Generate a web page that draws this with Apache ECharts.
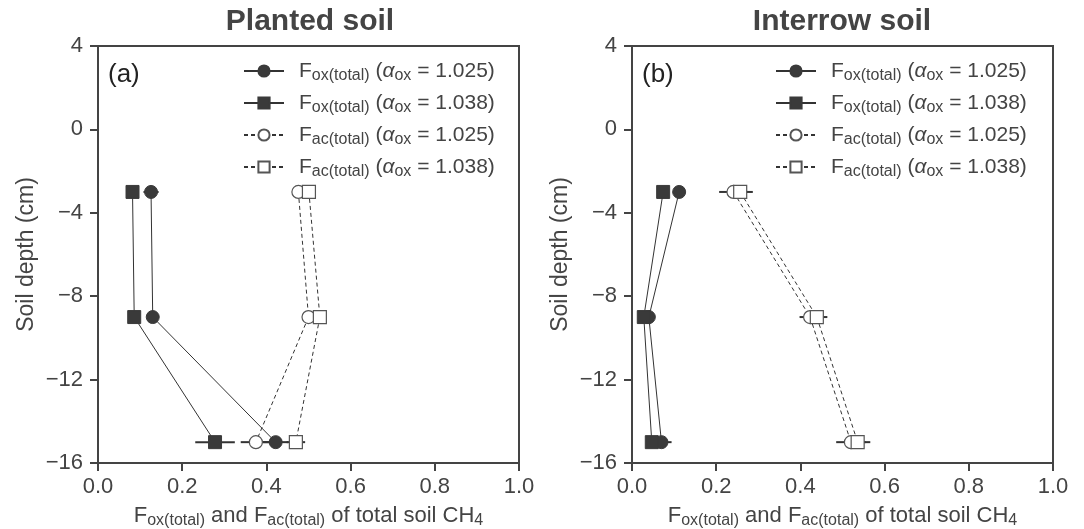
<!DOCTYPE html>
<html>
<head>
<meta charset="utf-8">
<script src="https://cdn.jsdelivr.net/npm/echarts@6/dist/echarts.min.js"></script>
<style>
  html, body { margin: 0; padding: 0; background: #fff; }
  #chart { width: 1084px; height: 529px; }
</style>
</head>
<body>
<div id="chart"></div>
<script>
// depths of the three sampled layers (cm)
const depths = [-3, -9, -15];

// Planted soil
const plantedOx1025 = [0.126, 0.13, 0.422];
const plantedOx1038 = [0.082, 0.086, 0.278];
const plantedAc1025 = [0.476, 0.5, 0.375];
const plantedAc1038 = [0.501, 0.527, 0.47];
const plantedOx1025Err = [0.018, 0.006, 0.03];
const plantedOx1038Err = [0.004, 0.004, 0.047];
const plantedAc1025Err = [0.006, 0.006, 0.036];
const plantedAc1038Err = [0.006, 0.006, 0.022];

// Interrow soil
const interrowOx1025 = [0.112, 0.04, 0.07];
const interrowOx1038 = [0.074, 0.028, 0.047];
const interrowAc1025 = [0.241, 0.423, 0.52];
const interrowAc1038 = [0.257, 0.439, 0.536];
const interrowOx1025Err = [0.006, 0.008, 0.024];
const interrowOx1038Err = [0.004, 0.008, 0.01];
const interrowAc1025Err = [0.034, 0.025, 0.035];
const interrowAc1038Err = [0.03, 0.025, 0.03];

const xTicks = [0, 0.2, 0.4, 0.6, 0.8, 1.0];
const yTicks = [4, 0, -4, -8, -12, -16];

const names = ['ox1025', 'ox1038', 'ac1025', 'ac1038'];
const legendText = {
  ox1025: '{f|F}{s|ox(total)}{m| (}{a|α}{s|ox}{m| = 1.025)}',
  ox1038: '{f|F}{s|ox(total)}{m| (}{a|α}{s|ox}{m| = 1.038)}',
  ac1025: '{f|F}{s|ac(total)}{m| (}{a|α}{s|ox}{m| = 1.025)}',
  ac1038: '{f|F}{s|ac(total)}{m| (}{a|α}{s|ox}{m| = 1.038)}'
};

const FONT = '"Liberation Sans", Arial, Helvetica, sans-serif';
const INK = '#444';

const rich = {
  f: { fontSize: 21, lineHeight: 24, color: INK, fontFamily: FONT, padding: [0, 0, 0, 10] },
  m: { fontSize: 21, lineHeight: 24, color: INK, fontFamily: FONT },
  a: { fontSize: 21, lineHeight: 24, color: INK, fontFamily: FONT, fontStyle: 'italic' },
  s: { fontSize: 16, lineHeight: 16, color: INK, fontFamily: FONT, padding: [10, 0, 0, 0] }
};
const nameRich = {
  m: { fontSize: 22, lineHeight: 24, color: INK, fontFamily: FONT },
  s: { fontSize: 16, lineHeight: 16, color: INK, fontFamily: FONT, padding: [10, 0, 0, 0] }
};

const pair = (xs, ys) => xs.map((v, i) => [v, ys[i]]);
const triple = (xs, ys, es) => xs.map((v, i) => [v, ys[i], es[i]]);

function lineSeries(name, idx, xs, filled, symbol) {
  return {
    name: name,
    type: 'line',
    xAxisIndex: idx,
    yAxisIndex: idx,
    data: pair(xs, depths),
    symbol: symbol,
    symbolSize: 13,
    showSymbol: true,
    z: 5,
    lineStyle: {
      color: '#333',
      width: 1,
      type: filled ? 'solid' : [4, 3]
    },
    itemStyle: filled
      ? { color: '#3a3a3a', borderColor: '#3a3a3a', borderWidth: 1 }
      : { color: '#fff', borderColor: '#555', borderWidth: 1.2 },
    emphasis: { disabled: true }
  };
}

function errSeries(idx, xs, es) {
  return {
    type: 'custom',
    xAxisIndex: idx,
    yAxisIndex: idx,
    z: 3,
    data: triple(xs, depths, es),
    renderItem: function (params, api) {
      const y = api.value(1);
      const a = api.coord([api.value(0) - api.value(2), y]);
      const b = api.coord([api.value(0) + api.value(2), y]);
      return {
        type: 'line',
        shape: { x1: a[0], y1: a[1], x2: b[0], y2: b[1] },
        style: { stroke: '#333', lineWidth: 2 }
      };
    }
  };
}

const minus = v => String(v).replace('-', '\u2212');

function xAxis(idx) {
  return {
    type: 'value',
    gridIndex: idx,
    min: xTicks[0],
    max: xTicks[xTicks.length - 1],
    interval: 0.2,
    name: '{m|F}{s|ox(total)}{m| and F}{s|ac(total)}{m| of total soil CH}{s|4}',
    nameLocation: 'middle',
    nameGap: 40,
    nameTextStyle: { rich: nameRich },
    axisLine: { show: true, onZero: false, lineStyle: { color: INK, width: 2 } },
    axisTick: { show: true, length: 8, lineStyle: { color: INK, width: 2 } },
    axisLabel: { fontSize: 22, color: INK, fontFamily: FONT, margin: 13, formatter: v => v.toFixed(1) },
    splitLine: { show: false }
  };
}

function yAxis(idx) {
  return {
    type: 'value',
    gridIndex: idx,
    min: yTicks[yTicks.length - 1],
    max: yTicks[0],
    interval: 4,
    name: 'Soil depth (cm)',
    nameLocation: 'middle',
    nameGap: 60,
    nameTextStyle: { fontSize: 23, color: INK, fontFamily: FONT },
    axisLine: { show: true, onZero: false, lineStyle: { color: INK, width: 2 } },
    axisTick: { show: true, length: 8, lineStyle: { color: INK, width: 2 } },
    axisLabel: { fontSize: 22, color: INK, fontFamily: FONT, margin: 15, formatter: minus },
    splitLine: { show: false }
  };
}

function legend(left) {
  return {
    orient: 'vertical',
    left: left,
    top: 58,
    itemWidth: 40,
    itemHeight: 14,
    itemGap: 6,
    padding: 0,
    selectedMode: false,
    data: names,
    formatter: n => legendText[n],
    textStyle: { rich: rich }
  };
}

const gridBox = {
  show: true, borderColor: INK, borderWidth: 2,
  top: 46, height: 417, width: 421, outerBoundsMode: 'none'
};

const option = {
  animation: false,
  backgroundColor: '#fff',
  title: [
    { text: 'Planted soil', left: 310, top: 7, textAlign: 'center', padding: 0,
      textStyle: { fontSize: 30, fontWeight: 'bold', color: INK, fontFamily: FONT } },
    { text: 'Interrow soil', left: 842, top: 7, textAlign: 'center', padding: 0,
      textStyle: { fontSize: 30, fontWeight: 'bold', color: INK, fontFamily: FONT } },
    { text: '(a)', left: 108, top: 62, padding: 0,
      textStyle: { fontSize: 26, fontWeight: 'normal', color: '#222', fontFamily: FONT } },
    { text: '(b)', left: 642, top: 62, padding: 0,
      textStyle: { fontSize: 26, fontWeight: 'normal', color: '#222', fontFamily: FONT } }
  ],
  legend: [legend(243), legend(775)],
  grid: [
    Object.assign({ left: 98 }, gridBox),
    Object.assign({ left: 632 }, gridBox)
  ],
  xAxis: [xAxis(0), xAxis(1)],
  yAxis: [yAxis(0), yAxis(1)],
  series: [
    errSeries(0, plantedOx1025, plantedOx1025Err),
    errSeries(0, plantedOx1038, plantedOx1038Err),
    errSeries(0, plantedAc1025, plantedAc1025Err),
    errSeries(0, plantedAc1038, plantedAc1038Err),
    lineSeries('ox1025', 0, plantedOx1025, true, 'circle'),
    lineSeries('ox1038', 0, plantedOx1038, true, 'rect'),
    lineSeries('ac1025', 0, plantedAc1025, false, 'circle'),
    lineSeries('ac1038', 0, plantedAc1038, false, 'rect'),
    errSeries(1, interrowOx1025, interrowOx1025Err),
    errSeries(1, interrowOx1038, interrowOx1038Err),
    errSeries(1, interrowAc1025, interrowAc1025Err),
    errSeries(1, interrowAc1038, interrowAc1038Err),
    lineSeries('ox1025', 1, interrowOx1025, true, 'circle'),
    lineSeries('ox1038', 1, interrowOx1038, true, 'rect'),
    lineSeries('ac1025', 1, interrowAc1025, false, 'circle'),
    lineSeries('ac1038', 1, interrowAc1038, false, 'rect')
  ]
};

const chart = echarts.init(document.getElementById('chart'), null, { renderer: 'canvas' });
chart.setOption(option);
</script>
</body>
</html>
